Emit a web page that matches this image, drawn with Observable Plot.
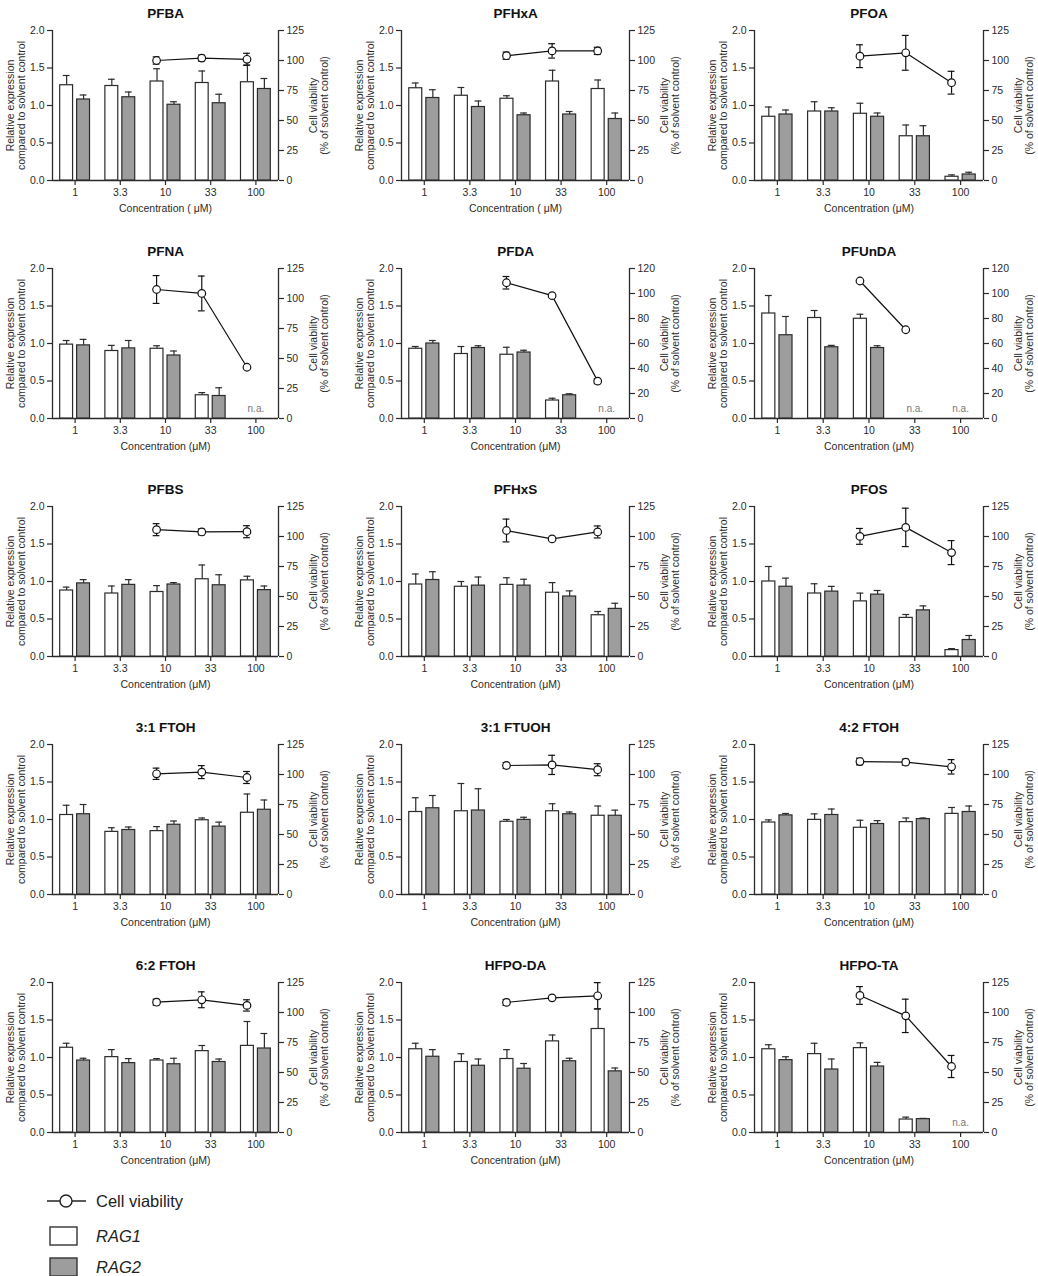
<!DOCTYPE html>
<html>
<head>
<meta charset="utf-8">
<script src="https://cdn.jsdelivr.net/npm/d3@7"></script>
<script src="https://cdn.jsdelivr.net/npm/@observablehq/plot@0.6"></script>
<style>
  html, body { margin: 0; padding: 0; background: #fff; }
  #root { position: relative; width: 1038px; height: 1276px; font-family: "Liberation Sans", Arial, sans-serif; }
  #root svg { position: absolute; }
</style>
</head>
<body>
<div id="root"></div>
<script>
// ---------- data ----------
const concentrations = ["1", "3.3", "10", "33", "100"];
const compounds = ["PFBA", "PFHxA", "PFOA", "PFNA", "PFDA", "PFUnDA", "PFBS", "PFHxS", "PFOS",
                   "3:1 FTOH", "3:1 FTUOH", "4:2 FTOH", "6:2 FTOH", "HFPO-DA", "HFPO-TA"];
const xTitles = ["Concentration ( μM)", "Concentration ( μM)", "Concentration (μM)", "Concentration (μM)",
                 "Concentration (μM)", "Concentration (μM)", "Concentration (μM)", "Concentration (μM)",
                 "Concentration (μM)", "Concentration (μM)", "Concentration (μM)", "Concentration (μM)",
                 "Concentration (μM)", "Concentration (μM)", "Concentration (μM)"];
const viabilityMax = [125, 125, 125, 125, 120, 120, 125, 125, 125, 125, 125, 125, 125, 125, 125];
const expressionTicks = [0, 0.5, 1, 1.5, 2];
const viabilityTicks125 = [0, 25, 50, 75, 100, 125];
const viabilityTicks120 = [0, 20, 40, 60, 80, 100, 120];

const rag1Mean = [
  [1.27, 1.26, 1.32, 1.30, 1.31],
  [1.23, 1.13, 1.09, 1.32, 1.22],
  [0.85, 0.92, 0.89, 0.59, 0.05],
  [0.985, 0.90, 0.93, 0.31, null],
  [0.93, 0.86, 0.85, 0.24, null],
  [1.40, 1.34, 1.33, null, null],
  [0.88, 0.84, 0.86, 1.03, 1.015],
  [0.96, 0.93, 0.955, 0.85, 0.55],
  [1.00, 0.84, 0.735, 0.515, 0.085],
  [1.06, 0.835, 0.845, 0.99, 1.09],
  [1.10, 1.11, 0.97, 1.11, 1.05],
  [0.96, 0.995, 0.89, 0.965, 1.075],
  [1.13, 1.005, 0.96, 1.085, 1.155],
  [1.11, 0.94, 0.98, 1.215, 1.38],
  [1.11, 1.045, 1.125, 0.173, null]
];
const rag1Sd = [
  [0.13, 0.09, 0.17, 0.16, 0.23],
  [0.07, 0.11, 0.04, 0.15, 0.12],
  [0.13, 0.13, 0.14, 0.15, 0.025],
  [0.055, 0.075, 0.04, 0.035, null],
  [0.03, 0.10, 0.10, 0.03, null],
  [0.24, 0.10, 0.06, null, null],
  [0.045, 0.10, 0.085, 0.19, 0.055],
  [0.14, 0.07, 0.095, 0.135, 0.05],
  [0.20, 0.13, 0.11, 0.045, 0.02],
  [0.13, 0.055, 0.06, 0.03, 0.25],
  [0.19, 0.37, 0.03, 0.10, 0.13],
  [0.035, 0.08, 0.10, 0.055, 0.085],
  [0.06, 0.10, 0.025, 0.075, 0.325],
  [0.08, 0.11, 0.125, 0.085, 0.27],
  [0.06, 0.145, 0.07, 0.032, null]
];
const rag2Mean = [
  [1.08, 1.11, 1.01, 1.03, 1.22],
  [1.10, 0.98, 0.87, 0.88, 0.82],
  [0.88, 0.92, 0.85, 0.59, 0.08],
  [0.975, 0.935, 0.84, 0.30, null],
  [1.00, 0.94, 0.88, 0.31, null],
  [1.11, 0.95, 0.94, null, null],
  [0.975, 0.955, 0.96, 0.95, 0.885],
  [1.02, 0.945, 0.945, 0.80, 0.635],
  [0.93, 0.865, 0.825, 0.615, 0.22],
  [1.07, 0.86, 0.93, 0.905, 1.13],
  [1.15, 1.12, 0.995, 1.07, 1.05],
  [1.055, 1.06, 0.94, 1.005, 1.10],
  [0.96, 0.925, 0.91, 0.94, 1.12],
  [1.01, 0.89, 0.85, 0.95, 0.815],
  [0.965, 0.84, 0.88, 0.178, null]
];
const rag2Sd = [
  [0.06, 0.07, 0.04, 0.12, 0.14],
  [0.11, 0.08, 0.03, 0.04, 0.08],
  [0.06, 0.05, 0.05, 0.14, 0.03],
  [0.08, 0.105, 0.06, 0.11, null],
  [0.04, 0.03, 0.03, 0.02, null],
  [0.25, 0.025, 0.03, null, null],
  [0.05, 0.07, 0.025, 0.14, 0.055],
  [0.11, 0.115, 0.085, 0.075, 0.075],
  [0.115, 0.07, 0.055, 0.06, 0.06],
  [0.13, 0.04, 0.05, 0.06, 0.13],
  [0.17, 0.29, 0.035, 0.03, 0.075],
  [0.025, 0.08, 0.045, 0.015, 0.08],
  [0.03, 0.06, 0.08, 0.04, 0.20],
  [0.095, 0.09, 0.07, 0.04, 0.045],
  [0.045, 0.14, 0.055, 0.01, null]
];
const viabilityMean = [
  [null, null, 100, 102, 101],
  [null, null, 104, 108, 108],
  [null, null, 103.6, 106.4, 81.5],
  [null, null, 107.5, 104.2, 42.7],
  [null, null, 108.6, 98.3, 29.9],
  [null, null, 110, 71, null],
  [null, null, 105.7, 103.8, 104],
  [null, null, 105, 98, 103.8],
  [null, null, 100.1, 107.6, 86.6],
  [null, null, 100.6, 102, 97.5],
  [null, null, 107.5, 108, 104],
  [null, null, 110.8, 110.3, 106.4],
  [null, null, 108.6, 110.6, 105.9],
  [null, null, 108.4, 112.2, 113.9],
  [null, null, 114.2, 97.2, 55]
];
const viabilitySd = [
  [null, null, 3, 2.5, 5],
  [null, null, 3, 6, 3],
  [null, null, 9.5, 14.5, 9.5],
  [null, null, 11.6, 14.5, 0],
  [null, null, 5, 0, 2],
  [null, null, 0, 0, null],
  [null, null, 5, 2.5, 5],
  [null, null, 9.5, 1, 5],
  [null, null, 6.6, 16, 10],
  [null, null, 4.7, 5.4, 5],
  [null, null, 2.5, 8, 5],
  [null, null, 2.8, 2.5, 6],
  [null, null, 2.5, 6.6, 4.7],
  [null, null, 2.5, 1, 11],
  [null, null, 7.4, 13.9, 9.2]
];

// ---------- layout ----------
const colMargins = [[52, 68], [55, 63], [62, 55]];
const panelW = 346, panelH = 238;
const FONT = '"Liberation Sans", Arial, sans-serif';
const INK = "#2b2b2b";
const GREY = "#9d9d9d";

const root = document.getElementById("root");

function panel(k) {
  const col = k % 3, row = Math.floor(k / 3);
  const [ml, mr] = colMargins[col];
  const vmax = viabilityMax[k];
  const toLeft = v => v / vmax * 2;
  const rTicks = vmax === 120 ? viabilityTicks120 : viabilityTicks125;

  const r1 = [], r2 = [], na = [], via = [];
  concentrations.forEach((c, i) => {
    if (rag1Mean[k][i] != null) r1.push({i, m: rag1Mean[k][i], sd: rag1Sd[k][i]});
    else na.push({i});
    if (rag2Mean[k][i] != null) r2.push({i, m: rag2Mean[k][i], sd: rag2Sd[k][i]});
    if (viabilityMean[k][i] != null) via.push({i, v: toLeft(viabilityMean[k][i]), sd: toLeft(viabilitySd[k][i] || 0)});
  });
  const viaErr = via.filter(d => d.sd > 0);

  const a1 = -0.33, b1 = -0.045, a2 = 0.045, b2 = 0.33;
  const c1 = (a1 + b1) / 2, c2 = (a2 + b2) / 2, cap = 0.075;
  const vx = d => d.i + c1 - 0.01;

  const label = (s, anchor, dx) => Plot.text([s], {text: d => d, frameAnchor: anchor, textAnchor: "middle",
    rotate: -90, dx, fontSize: 10.5, fill: INK});

  const svg = Plot.plot({
    width: panelW, height: panelH,
    marginLeft: ml, marginRight: mr, marginTop: 30, marginBottom: 58,
    x: {domain: [-0.5, 4.5]},
    y: {domain: [0, 2]},
    style: {fontFamily: FONT, fontSize: "10.5px", color: INK, background: "white", overflow: "visible"},
    marks: [
      // axes lines
      Plot.ruleY([0], {stroke: INK, strokeWidth: 1.3}),
      Plot.ruleX([-0.5, 4.5], {y1: 0, y2: 2, stroke: INK, strokeWidth: 1.3}),
      Plot.axisY(expressionTicks, {anchor: "left", tickFormat: d3.format(".1f"), tickSize: 5, tickPadding: 3, label: null, strokeWidth: 1.2}),
      Plot.axisY(rTicks.map(toLeft), {anchor: "right", tickFormat: d => String(Math.round(d * vmax / 2)), tickSize: 5, tickPadding: 3, label: null, strokeWidth: 1.2}),
      Plot.axisX([0, 1, 2, 3, 4], {tickFormat: i => concentrations[i], tickSize: 5, tickPadding: 3, label: null, strokeWidth: 1.2}),
      // error bars (upper only)
      Plot.ruleX(r1, {x: d => d.i + c1, y1: "m", y2: d => d.m + d.sd, stroke: INK, strokeWidth: 1.2}),
      Plot.ruleY(r1, {y: d => d.m + d.sd, x1: d => d.i + c1 - cap, x2: d => d.i + c1 + cap, stroke: INK, strokeWidth: 1.2}),
      Plot.ruleX(r2, {x: d => d.i + c2, y1: "m", y2: d => d.m + d.sd, stroke: INK, strokeWidth: 1.2}),
      Plot.ruleY(r2, {y: d => d.m + d.sd, x1: d => d.i + c2 - cap, x2: d => d.i + c2 + cap, stroke: INK, strokeWidth: 1.2}),
      // bars
      Plot.rectY(r1, {x1: d => d.i + a1, x2: d => d.i + b1, y1: 0, y2: "m", fill: "white", stroke: INK, strokeWidth: 1.2}),
      Plot.rectY(r2, {x1: d => d.i + a2, x2: d => d.i + b2, y1: 0, y2: "m", fill: GREY, stroke: INK, strokeWidth: 1.2}),
      // n.a. labels
      Plot.text(na, {x: "i", y: 0, dy: -10, text: () => "n.a.", fill: "#777", fontSize: 10}),
      // viability
      Plot.line(via, {x: vx, y: "v", stroke: "#111", strokeWidth: 1.2}),
      Plot.ruleX(viaErr, {x: vx, y1: d => d.v - d.sd, y2: d => d.v + d.sd, stroke: "#111", strokeWidth: 1.2}),
      Plot.ruleY(viaErr, {y: d => d.v + d.sd, x1: d => vx(d) - cap, x2: d => vx(d) + cap, stroke: "#111", strokeWidth: 1.2}),
      Plot.ruleY(viaErr, {y: d => d.v - d.sd, x1: d => vx(d) - cap, x2: d => vx(d) + cap, stroke: "#111", strokeWidth: 1.2}),
      Plot.dot(via, {x: vx, y: "v", r: 3.8, fill: "white", stroke: "#111", strokeWidth: 1.2}),
      // texts
      Plot.text([compounds[k]], {text: d => d, frameAnchor: "top", dy: -22, fontWeight: "bold", fontSize: 13.5, fill: "#111"}),
      Plot.text([xTitles[k]], {text: d => d, frameAnchor: "bottom", dy: 31, fontSize: 10.5, fill: INK}),
      label("Relative expression", "left", -42),
      label("compared to solvent control", "left", -31),
      label("Cell viability", "right", 35),
      label("(% of solvent control)", "right", 46)
    ]
  });
  svg.style.left = (col * panelW) + "px";
  svg.style.top = (row * panelH) + "px";
  root.appendChild(svg);
}

compounds.forEach((c, k) => panel(k));

// ---------- legend ----------
const ns = "http://www.w3.org/2000/svg";
const leg = document.createElementNS(ns, "svg");
leg.setAttribute("width", 300);
leg.setAttribute("height", 96);
leg.style.left = "0px";
leg.style.top = "1180px";
leg.innerHTML = `
  <g font-family='${FONT}' font-size='16.5' fill='#222'>
    <line x1="47" x2="86" y1="21" y2="21" stroke="#222" stroke-width="1.4"/>
    <circle cx="66" cy="21" r="6" fill="white" stroke="#222" stroke-width="1.4"/>
    <text x="96" y="27">Cell viability</text>
    <rect x="50" y="47" width="27" height="18" fill="white" stroke="#333" stroke-width="1.4"/>
    <text x="96" y="62" font-style="italic">RAG1</text>
    <rect x="50" y="78" width="27" height="18" fill="${GREY}" stroke="#333" stroke-width="1.4"/>
    <text x="96" y="93" font-style="italic">RAG2</text>
  </g>`;
root.appendChild(leg);
</script>
</body>
</html>
